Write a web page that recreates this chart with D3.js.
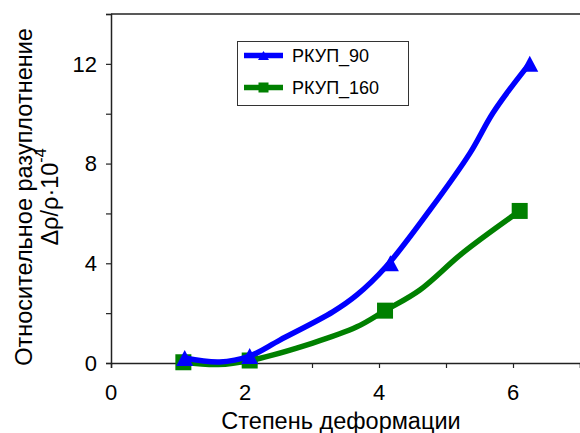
<!DOCTYPE html>
<html><head><meta charset="utf-8">
<script src="https://cdn.jsdelivr.net/npm/d3@7"></script>
<style>body{margin:0;background:#fff}svg{display:block}text{font-family:"Liberation Sans",Arial,sans-serif;fill:#000}</style>
</head><body><svg id="c" width="580" height="433"></svg>
<script>
// ---- data ----
const seriesNames = ["РКУП_90", "РКУП_160"];
// marker points
const rkup90X = [1.1, 2.07, 4.17, 6.25];
const rkup90Y = [0.2, 0.28, 4.0, 12.0];
const rkup160X = [1.08, 2.07, 4.09, 6.1];
const rkup160Y = [0.03, 0.1, 2.1, 6.1];
// drawn line vertices
const rkup90LineX = [1.1, 1.62, 2.07, 2.52, 3.31, 3.67, 4.1, 4.76, 5.36, 5.7, 6.15, 6.25];
const rkup90LineY = [0.2, 0.04, 0.28, 0.92, 2.05, 2.73, 3.85, 6.14, 8.43, 10.03, 11.68, 12.0];
const rkup160LineX = [1.08, 1.6, 2.07, 3.01, 3.67, 4.09, 4.61, 5.25, 6.1];
const rkup160LineY = [0.03, -0.06, 0.1, 0.8, 1.45, 2.1, 2.93, 4.42, 6.1];
const xTickLabels = [0, 2, 4, 6];
const yTickLabels = [0, 4, 8, 12];
const xTitle = "Степень деформации";
const yTitle1 = "Относительное разуплотнение";
const yTitle2 = "Δρ/ρ·10";
const yTitleSup = "-4";

// ---- layout ----
const svg = d3.select("#c");
const x = d3.scaleLinear().domain([0, 7]).range([111, 580]);
const y = d3.scaleLinear().domain([0, 14]).range([363, 14]);
const axisColor = "#222";

svg.append("line").attr("x1", x(0)).attr("x2", x(7)).attr("y1", y(14)).attr("y2", y(14))
  .attr("stroke", axisColor).attr("stroke-width", 1.5);

const xAxis = svg.append("g").attr("transform", `translate(0,${y(0)})`)
  .call(d3.axisBottom(x).tickValues(d3.range(0, 8, 1)).tickSize(5).tickFormat(""));
xAxis.select(".domain").attr("stroke", axisColor).attr("stroke-width", 1.5);
xAxis.selectAll(".tick line").attr("stroke", axisColor).attr("stroke-width", 1.2);
svg.append("g").selectAll("text").data(xTickLabels).join("text")
  .attr("x", d => x(d)).attr("y", 400).attr("text-anchor", "middle")
  .attr("font-size", 22).text(d => d);

const yAxis = svg.append("g").attr("transform", `translate(${x(0)},0)`)
  .call(d3.axisLeft(y).tickValues(d3.range(0, 15, 2)).tickSize(5).tickFormat(""));
yAxis.select(".domain").attr("stroke", axisColor).attr("stroke-width", 1.5);
yAxis.selectAll(".tick line").attr("stroke", axisColor).attr("stroke-width", 1.2);
svg.append("g").selectAll("text").data(yTickLabels).join("text")
  .attr("x", 97).attr("y", d => y(d)).attr("dy", "0.36em").attr("text-anchor", "end")
  .attr("font-size", 22).text(d => d);

svg.append("text").attr("x", 341).attr("y", 429).attr("text-anchor", "middle")
  .attr("font-size", 23.5).text(xTitle);
svg.append("text").attr("transform", "translate(32,197) rotate(-90)")
  .attr("text-anchor", "middle").attr("font-size", 23.5).text(yTitle1);
const t2 = svg.append("text").attr("transform", "translate(58,197) rotate(-90)")
  .attr("text-anchor", "middle").attr("font-size", 23.5);
t2.append("tspan").text(yTitle2);
t2.append("tspan").attr("font-size", 16).attr("dy", "-0.75em").text(yTitleSup);

// series
const line = d3.line().x(d => x(d[0])).y(d => y(d[1])).curve(d3.curveCatmullRom.alpha(0.5));
const m160 = rkup160X.map((v, i) => [v, rkup160Y[i]]);
const m90 = rkup90X.map((v, i) => [v, rkup90Y[i]]);
const l160 = rkup160LineX.map((v, i) => [v, rkup160LineY[i]]);
const l90 = rkup90LineX.map((v, i) => [v, rkup90LineY[i]]);
const green = "#008000", blue = "#0000ff";

function triPath(cx, cy, w, h) {
  return `M${cx},${cy - h / 2}L${cx + w / 2},${cy + h / 2}L${cx - w / 2},${cy + h / 2}Z`;
}

svg.append("path").datum(l160).attr("d", line).attr("fill", "none")
  .attr("stroke", green).attr("stroke-width", 5.5).attr("stroke-linejoin", "round");
svg.append("g").selectAll("rect").data(m160).join("rect")
  .attr("x", d => x(d[0]) - 8).attr("y", d => y(d[1]) - 8).attr("width", 16).attr("height", 16)
  .attr("fill", green);

svg.append("path").datum(l90).attr("d", line).attr("fill", "none")
  .attr("stroke", blue).attr("stroke-width", 5.5).attr("stroke-linejoin", "round");
svg.append("g").selectAll("path").data(m90).join("path")
  .attr("d", d => triPath(x(d[0]), y(d[1]), 17, 16)).attr("fill", blue);

// legend
const lg = svg.append("g");
lg.append("rect").attr("x", 237.5).attr("y", 41.5).attr("width", 171).attr("height", 64)
  .attr("fill", "#fff").attr("stroke", "#333").attr("stroke-width", 1);
const legendY = [55.5, 87.5];
const legendColors = [blue, green];
seriesNames.forEach((name, i) => {
  const ly = legendY[i];
  lg.append("line").attr("x1", 244).attr("x2", 283).attr("y1", ly).attr("y2", ly)
    .attr("stroke", legendColors[i]).attr("stroke-width", 5.5);
  if (i === 0) lg.append("path").attr("d", triPath(263.5, ly, 11, 9)).attr("fill", blue);
  else lg.append("rect").attr("x", 258.5).attr("y", ly - 5).attr("width", 10).attr("height", 10).attr("fill", green);
  lg.append("text").attr("x", 292).attr("y", ly + 6.5).attr("font-size", 18).text(name);
});
</script></body></html>
